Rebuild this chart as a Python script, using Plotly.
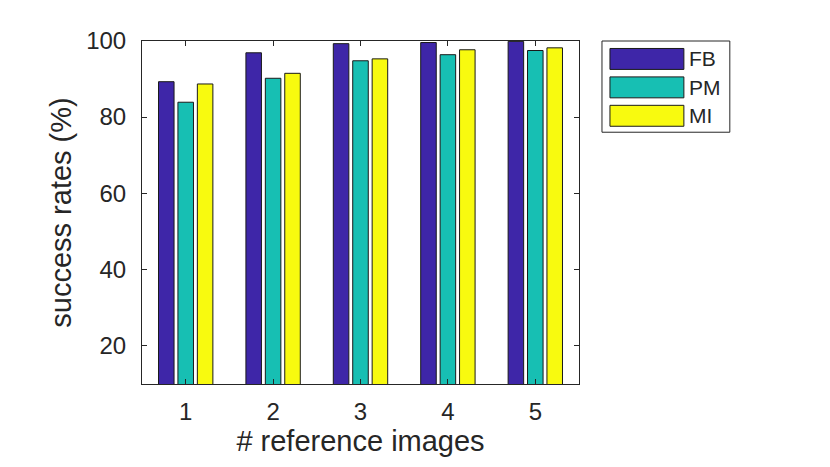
import plotly.graph_objects as go

categories = [1, 2, 3, 4, 5]
series_names = ["FB", "PM", "MI"]
fb_values = [89.3, 96.9, 99.3, 99.6, 99.9]
pm_values = [83.9, 90.2, 94.8, 96.4, 97.5]
mi_values = [88.7, 91.5, 95.3, 97.7, 98.2]
colors = ["#3e26a8", "#17bfb3", "#f8fa0f"]
ytick_vals = [20, 40, 60, 80, 100]

FONT = "Liberation Sans, Arial, Helvetica, sans-serif"
AX = "#262626"
W, H = 830, 467
OFF = 8  # page body offset of the plot div

# target plot area in viewport pixels
PX0, PX1, PY0, PY1 = 142, 579.5, 40.5, 384.5

fig = go.Figure()
for name, vals, col in zip(series_names, [fb_values, pm_values, mi_values], colors):
    fig.add_trace(go.Bar(x=categories, y=vals, name=name,
                         marker=dict(color=col, line=dict(color="#1a1a1a", width=1)),
                         showlegend=False))

def px(x): return (x - PX0) / (PX1 - PX0)
def py(y): return (PY1 - y) / (PY1 - PY0)

# MATLAB-like legend box
shapes = [dict(type="rect", xref="paper", yref="paper", x0=px(602.5), x1=px(730.5), y0=py(132), y1=py(40.5),
               line=dict(color=AX, width=1), fillcolor="white")]
annotations = []
centers = [58.5, 87, 115.5]
for name, col, cy in zip(series_names, colors, centers):
    shapes.append(dict(type="rect", xref="paper", yref="paper", x0=px(610.5), x1=px(684.5),
                       y0=py(cy + 10.5), y1=py(cy - 10.5),
                       line=dict(color="#1a1a1a", width=1), fillcolor=col))
    annotations.append(dict(xref="paper", yref="paper", x=px(688), y=py(cy), text=name, showarrow=False,
                            xanchor="left", yanchor="middle", font=dict(family=FONT, size=21, color=AX)))

fig.update_layout(
    width=W, height=H,
    margin=dict(l=PX0 - OFF, r=W - (PX1 - OFF), t=PY0 - OFF, b=H - (PY1 - OFF), pad=0),
    plot_bgcolor="white", paper_bgcolor="white",
    barmode="group", bargap=0.3333, bargroupgap=0.2,
    font=dict(family=FONT, size=24, color=AX),
    shapes=shapes,
    annotations=annotations,
    xaxis=dict(range=[0.5, 5.5], tickvals=categories, ticktext=[str(c) for c in categories],
               ticks="inside", ticklen=5, tickcolor=AX, showline=True, linecolor=AX, linewidth=1,
               mirror="allticks", showgrid=False, zeroline=False, ticklabelstandoff=6,
               tickfont=dict(family=FONT, size=24, color=AX),
               title=dict(text="# reference images", font=dict(family=FONT, size=29, color=AX), standoff=5)),
    yaxis=dict(range=[9.8, 100], tickvals=ytick_vals, ticks="inside", ticklen=5, tickcolor=AX,
               showline=True, linecolor=AX, linewidth=1, mirror="allticks", showgrid=False, zeroline=False,
               ticklabelstandoff=10, tickfont=dict(family=FONT, size=24, color=AX),
               title=dict(text="success rates (%)", font=dict(family=FONT, size=29, color=AX), standoff=6)),
)
fig.write_html("out.html")
